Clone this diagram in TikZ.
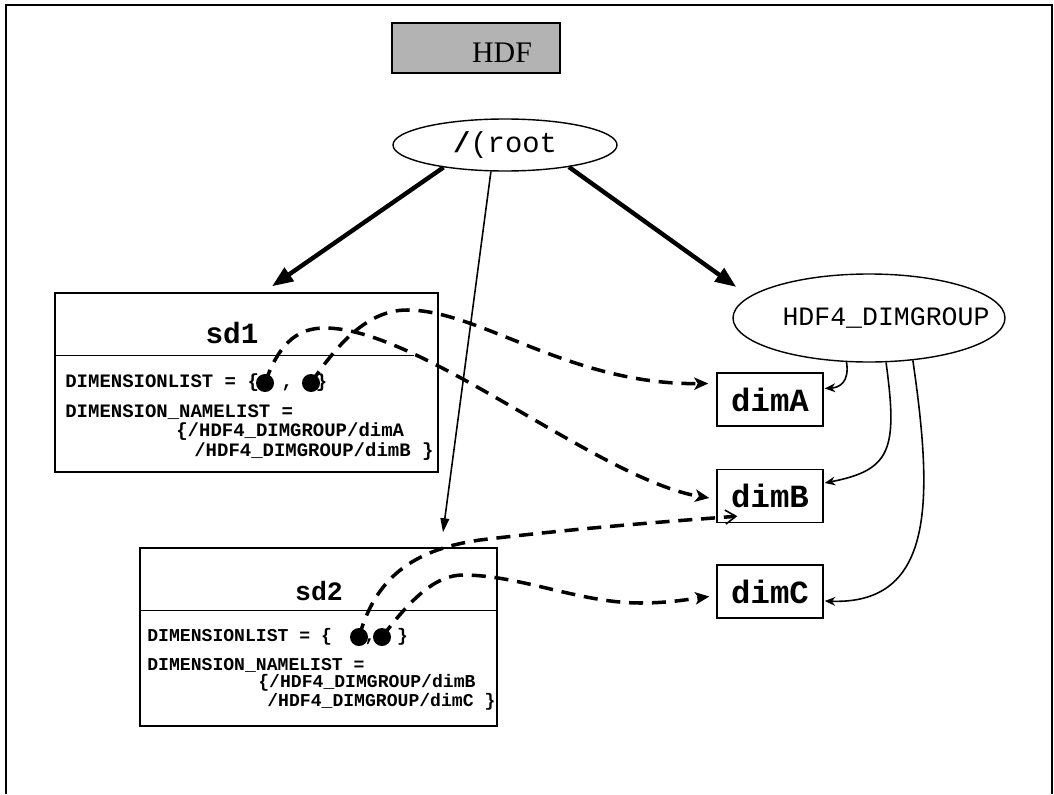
\documentclass[tikz,border=0pt]{standalone}
\usepackage{fontspec}
\setmainfont{Liberation Serif}
\setmonofont{Liberation Mono}
\usepackage{tikz}
\usetikzlibrary{arrows.meta,positioning,calc,shapes.geometric}
\newlength\pxu
\setlength\pxu{0.02cm}
\definecolor{hdfgray}{RGB}{179,179,179}
\tikzset{
  boxnode/.style={draw,line width=0.8pt,inner sep=0pt},
  ovalnode/.style={draw,ellipse,line width=0.8pt,inner sep=0pt},
  dimnode/.style={draw,line width=0.8pt,inner sep=0pt,minimum width=106\pxu,minimum height=53\pxu,font=\ttfamily\bfseries\fontsize{18.4}{20}\selectfont},
  bodyone/.style={anchor=west,inner sep=0pt,font=\ttfamily\bfseries\fontsize{10.8}{12}\selectfont},
  bodytwo/.style={anchor=west,inner sep=0pt,font=\ttfamily\bfseries\fontsize{10.3}{12}\selectfont},
  dotnode/.style={circle,fill=black,inner sep=0pt,minimum size=18\pxu},
  rootarrow/.style={line width=2.5pt,-{Triangle[length=12pt,width=9pt]}},
  thinarrow/.style={line width=0.9pt,-{Triangle[length=8pt,width=5pt]}},
  grparrow/.style={line width=0.9pt,-{Stealth[length=6pt,width=5pt]}},
  dasharrow/.style={line width=2pt,dash pattern=on 8pt off 5pt,-{Stealth[length=8pt,width=7pt,inset=2pt]}},
  openarrow/.style={line width=2pt,dash pattern=on 8pt off 5pt,-{Straight Barb[length=6pt,width=8pt,line width=0.9pt]}}
}
\begin{document}
\begin{tikzpicture}[x=0.02cm,y=-0.02cm]
\useasboundingbox (0,0) rectangle (1054,794);
\draw[line width=1.1pt] (6,794) -- (6,5) -- (1052,5) -- (1052,794);

\node[boxnode,line width=1pt,fill=hdfgray,minimum width=168\pxu,minimum height=50\pxu,text height=30\pxu,font=\rmfamily\fontsize{17}{20}\selectfont] (hdf) at (476,48) {\hspace*{52\pxu}HDF};

\node[ovalnode,minimum width=224\pxu,minimum height=52\pxu,font=\ttfamily\fontsize{16.4}{18}\selectfont] (root) at (505,145) {\textbf{/}(root};
\node[ovalnode,minimum width=272\pxu,minimum height=88\pxu,font=\ttfamily\fontsize{15.1}{17}\selectfont] (dimgrp) at (869,318) {\makebox[0pt]{\hspace*{34\pxu}HDF4\_DIMGROUP}};

\node[boxnode,minimum width=383\pxu,minimum height=179\pxu] (sdone) at (246.5,382.5) {};
\node[font=\ttfamily\bfseries\fontsize{16.7}{18}\selectfont] (sdonename) at (232,333) {sd1};
\draw[line width=0.8pt] ($(sdone.north west)+(0,63)$) -- ($(sdone.north east)+(-25,63)$);
\node[bodyone] (dlone) at (65,383) {DIMENSIONLIST = \{\ \ ,\ \ \}};
\node[bodyone] (nlone) at (65,412) {DIMENSION\_NAMELIST =};
\node[bodyone] (paone) at (176,432) {\{/HDF4\_DIMGROUP/dimA};
\node[bodyone] (pbone) at (194,452) {/HDF4\_DIMGROUP/dimB \}};
\node[dotnode] (aone) at (265,383) {};
\node[dotnode] (bone) at (311,383) {};

\node[boxnode,minimum width=357\pxu,minimum height=178\pxu] (sdtwo) at (318.5,637) {};
\node[font=\ttfamily\bfseries\fontsize{15.1}{17}\selectfont] (sdtwoname) at (319,591) {sd2};
\draw[line width=0.8pt] ($(sdtwo.north west)+(0,63)$) -- ($(sdtwo.north east)+(0,63)$);
\node[bodytwo] (dltwo) at (147,637) {DIMENSIONLIST = \{\ \ \ ,\ \ \}};
\node[bodytwo] (nltwo) at (147,665) {DIMENSION\_NAMELIST =};
\node[bodytwo] (patwo) at (258,683) {\{/HDF4\_DIMGROUP/dimB};
\node[bodytwo] (pbtwo) at (267,702) {/HDF4\_DIMGROUP/dimC \}};
\node[dotnode] (ctwo) at (359,637) {};
\node[dotnode] (dtwo) at (382,637) {};

\node[dimnode] (dima) at (770,399.5) {dimA};
\node[dimnode] (dimb) at (770,496) {dimB};
\node[dimnode] (dimc) at (770,591.5) {dimC};

\draw[rootarrow] (root.200) -- ($(sdone.north)+(25.5,-6)$);
\draw[thinarrow] (root.242) -- ($(sdtwo.north)+(124.5,-15)$);
\draw[rootarrow] (root.341) -- ($(dimgrp.west)+(4,-31)$);

\draw[grparrow] (dimgrp.243) .. controls +(3,20) and +(15,-1) .. ($(dima.east)+(1,-11)$);
\draw[grparrow] (dimgrp.291) .. controls +(12,88) and +(66,-13) .. ($(dimb.east)+(1,-13)$);
\draw[grparrow] (dimgrp.316) .. controls +(20,138) and +(111,4) .. ($(dimc.east)+(1,9.5)$);

\draw[dasharrow] (aone.center) .. controls (280,340) and (300,328) .. (325,328) .. controls (420,328) and (600,480) .. ($(dimb.west)+(-7,2)$);
\draw[dasharrow] (bone.center) .. controls (340,340) and (370,310) .. (407,310) .. controls (480,310) and (570,385) .. ($(dima.west)+(-8,-16)$);
\draw[openarrow] (ctwo.center) .. controls (375,580) and (410,550) .. (480,540) .. controls (580,528) and (660,522) .. ($(dimb.south west)+(21,-7)$);
\draw[dasharrow] (dtwo.center) .. controls (410,600) and (435,575) .. (463,575) .. controls (520,575) and (580,603) .. (640,603) .. controls (670,603) and (690,599) .. ($(dimc.west)+(-7,5)$);
\end{tikzpicture}
\end{document}
